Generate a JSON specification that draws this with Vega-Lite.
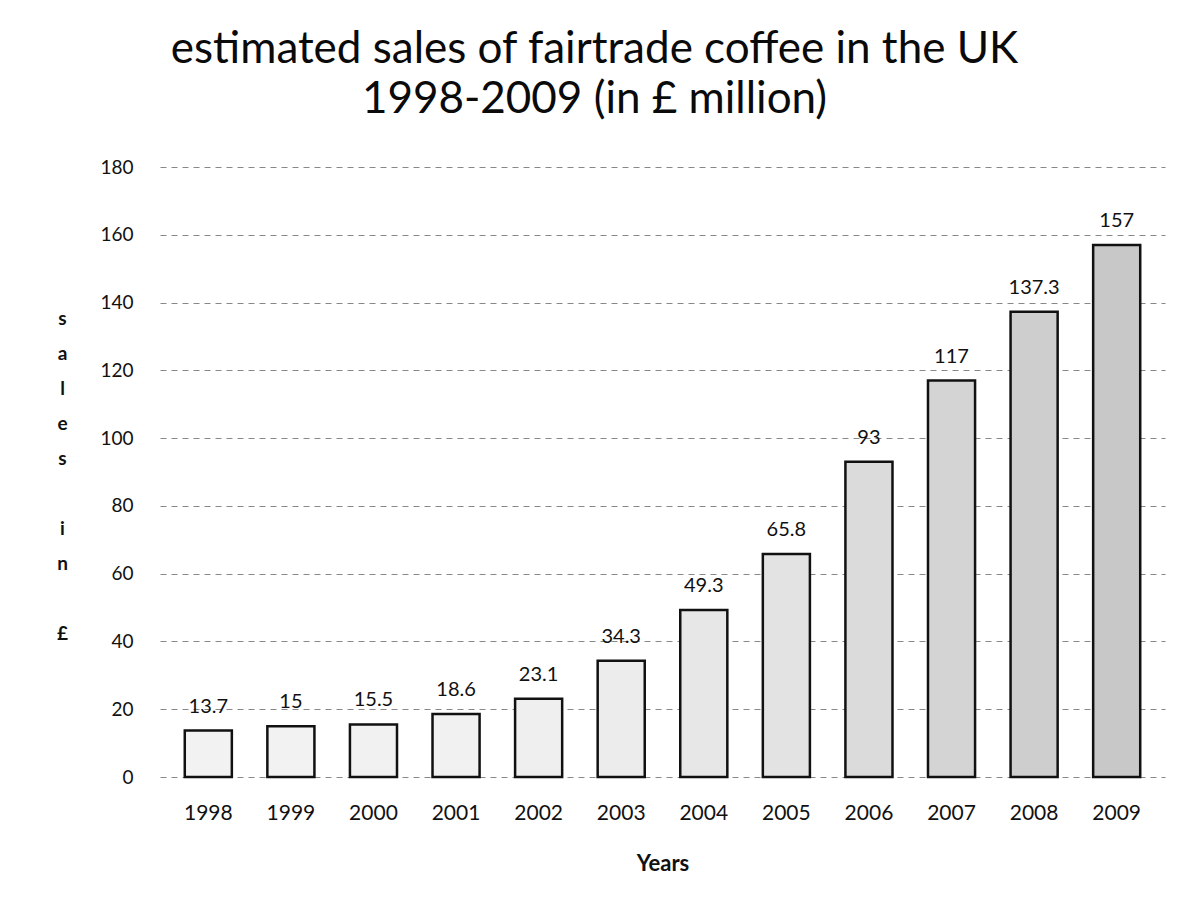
{
  "$schema": "https://vega.github.io/schema/vega-lite/v6.json",
  "width": 1005,
  "height": 610,
  "autosize": {"type": "none"},
  "padding": {"left": 160, "top": 167, "right": 22, "bottom": 131},
  "background": "white",
  "title": {
    "text": "estimated sales of fairtrade coffee in the UK",
    "subtitle": "1998-2009 (in £ million)",
    "font": "Lato",
    "fontSize": 44,
    "fontWeight": "normal",
    "color": "#0a0a0a",
    "subtitleFont": "Lato",
    "subtitleFontSize": 44,
    "subtitleFontWeight": "normal",
    "subtitleColor": "#0a0a0a",
    "subtitlePadding": 6,
    "anchor": "middle",
    "dx": -68,
    "offset": 36
  },
  "data": {
    "values": [
      {"year": "1998", "sales": 13.7},
      {"year": "1999", "sales": 15},
      {"year": "2000", "sales": 15.5},
      {"year": "2001", "sales": 18.6},
      {"year": "2002", "sales": 23.1},
      {"year": "2003", "sales": 34.3},
      {"year": "2004", "sales": 49.3},
      {"year": "2005", "sales": 65.8},
      {"year": "2006", "sales": 93},
      {"year": "2007", "sales": 117},
      {"year": "2008", "sales": 137.3},
      {"year": "2009", "sales": 157}
    ]
  },
  "encoding": {
    "x": {
      "field": "year",
      "type": "nominal",
      "scale": {"paddingInner": 0.43, "paddingOuter": 0.3},
      "axis": {
        "title": "Years",
        "titleFont": "Lato",
        "titleFontSize": 22,
        "titleFontWeight": "bold",
        "titleColor": "#111",
        "titlePadding": 30,
        "labelAngle": 0,
        "labelFont": "Lato",
        "labelFontSize": 21,
        "labelColor": "#111",
        "labelPadding": 25,
        "ticks": false,
        "domain": false
      }
    },
    "y": {
      "field": "sales",
      "type": "quantitative",
      "scale": {"domain": [0, 180], "nice": false},
      "axis": {
        "values": [0, 20, 40, 60, 80, 100, 120, 140, 160, 180],
        "title": ["s", "a", "l", "e", "s", "\u2800", "i", "n", "\u2800", "£"],
        "titleAngle": 0,
        "titleFont": "Lato",
        "titleFontSize": 19,
        "titleFontWeight": "bold",
        "titleColor": "#111",
        "titleLineHeight": 35,
        "titleAlign": "center",
        "titleBaseline": "middle",
        "titleX": -98,
        "titleY": 151,
        "labelFont": "Lato",
        "labelFontSize": 19,
        "labelColor": "#111",
        "labelPadding": 27,
        "ticks": false,
        "domain": false,
        "grid": true,
        "gridColor": "#888888",
        "gridDash": [6, 5],
        "gridWidth": 1.2
      }
    }
  },
  "layer": [
    {
      "mark": {"type": "bar", "stroke": "#111111", "strokeWidth": 2.5},
      "encoding": {
        "color": {
          "field": "sales",
          "type": "quantitative",
          "scale": {"range": ["#f2f2f2", "#c8c8c8"]},
          "legend": null
        }
      }
    },
    {
      "mark": {"type": "text", "baseline": "alphabetic", "dy": -18, "font": "Lato", "fontSize": 20, "color": "#111111"},
      "encoding": {
        "text": {"field": "sales", "type": "quantitative"}
      }
    }
  ],
  "config": {
    "view": {"stroke": null}
  }
}
